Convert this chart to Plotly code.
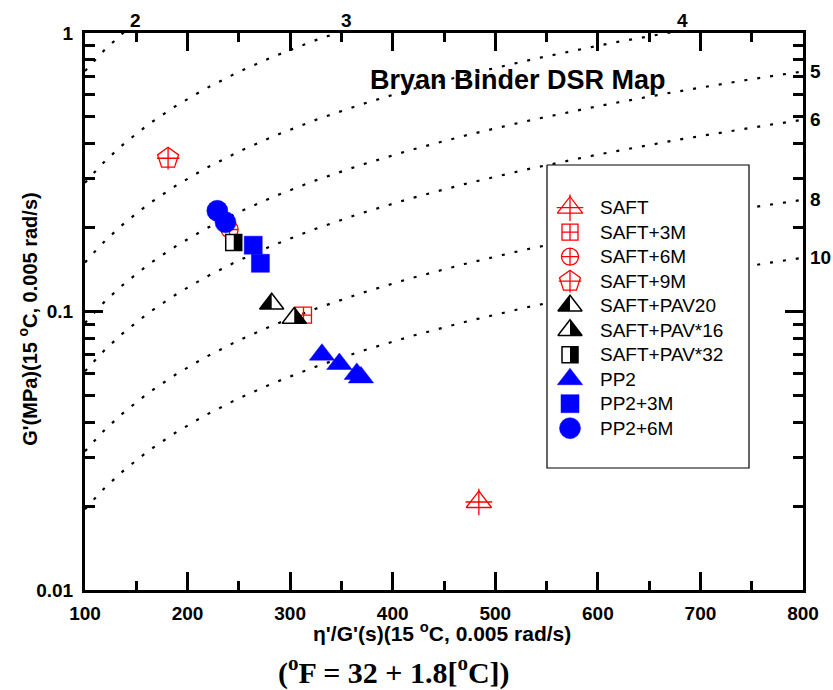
import numpy as np
import plotly.graph_objects as go

# ---------------- data ----------------
# reference curves: G' = k * (eta'/G') ; one curve per ductility level
ductility_labels = ["2", "3", "4", "5", "6", "8", "10"]
curve_slope = [7.3e-3, 2.9e-3, 1.5e-3, 9.1e-4, 6.1e-4, 3.15e-4, 1.95e-4]

top_label_text = ["2", "3", "4"]
top_label_x = [149, 355, 683]
right_label_text = ["5", "6", "8", "10"]
right_label_value = [0.728, 0.488, 0.252, 0.156]

x_ticks = [100, 200, 300, 400, 500, 600, 700, 800]
x_minor = [150, 250, 350, 450, 550, 650, 750]
y_ticks = [0.01, 0.1, 1]
y_tick_text = ["0.01", "0.1", "1"]
y_minor = [0.02, 0.03, 0.04, 0.05, 0.06, 0.07, 0.08, 0.09,
           0.2, 0.3, 0.4, 0.5, 0.6, 0.7, 0.8, 0.9]

saft_x = [484]
saft_y = [0.0207]
saft3m_x = [313]
saft3m_y = [0.097]
saft6m_x = [241]
saft6m_y = [0.197]
saft9m_x = [181]
saft9m_y = [0.355]
pav20_x = [282]
pav20_y = [0.1066]
pav16_x = [304]
pav16_y = [0.0948]
pav32_x = [245]
pav32_y = [0.177]
pp2_x = [331, 348, 365, 369]
pp2_y = [0.0700, 0.0648, 0.0597, 0.0580]
pp23m_x = [264, 271]
pp23m_y = [0.173, 0.149]
pp26m_x = [229, 237]
pp26m_y = [0.230, 0.209]

legend_names = ["SAFT", "SAFT+3M", "SAFT+6M", "SAFT+9M", "SAFT+PAV20",
                "SAFT+PAV*16", "SAFT+PAV*32", "PP2", "PP2+3M", "PP2+6M"]

# ---------------- styles ----------------
RED = "#ff0000"
BLUE = "#0000ff"
SANS = "Liberation Sans, Arial, sans-serif"
SERIF = "Liberation Serif, Times New Roman, serif"

# each series: marker layers (symbol, size, fill, line color, line width) + optional black half
series = {
    "SAFT": dict(x=saft_x, y=saft_y, layers=[("triangle-up-open", 22, RED, RED, 1.3),
                                             ("cross-thin-open", 19, RED, RED, 1.3)], half=None),
    "SAFT+3M": dict(x=saft3m_x, y=saft3m_y, layers=[("square-cross-open", 16, RED, RED, 1.3)], half=None),
    "SAFT+6M": dict(x=saft6m_x, y=saft6m_y, layers=[("circle-cross-open", 17, RED, RED, 1.3)], half=None),
    "SAFT+9M": dict(x=saft9m_x, y=saft9m_y, layers=[("pentagon-open", 22, RED, RED, 1.3),
                                                   ("cross-thin-open", 16, RED, RED, 1.3)], half=None),
    "SAFT+PAV20": dict(x=pav20_x, y=pav20_y, layers=[("triangle-up", 21, "white", "black", 1.5)],
                       half=("tri", "left", 21)),
    "SAFT+PAV*16": dict(x=pav16_x, y=pav16_y, layers=[("triangle-up", 21, "white", "black", 1.5)],
                        half=("tri", "right", 21)),
    "SAFT+PAV*32": dict(x=pav32_x, y=pav32_y, layers=[("square", 16, "white", "black", 1.5)],
                        half=("sq", "right", 16)),
    "PP2": dict(x=pp2_x, y=pp2_y, layers=[("triangle-up", 22, BLUE, BLUE, 0.5)], half=None),
    "PP2+3M": dict(x=pp23m_x, y=pp23m_y, layers=[("square", 18, BLUE, BLUE, 0.5)], half=None),
    "PP2+6M": dict(x=pp26m_x, y=pp26m_y, layers=[("circle", 21, BLUE, BLUE, 0.5)], half=None),
}


def half_path(kind, side, size):
    """pixel path (y up) of the black half of a marker, matching plotly symbol geometry"""
    r = size / 2.0
    if kind == "tri":
        rt = r * 2 / np.sqrt(3)
        sx = -rt if side == "left" else rt
        return f"M0,{r:.2f} L{sx:.2f},{-r/2:.2f} L0,{-r/2:.2f} Z"
    sx = -r if side == "left" else r
    return f"M0,{r:.2f} L{sx:.2f},{r:.2f} L{sx:.2f},{-r:.2f} L0,{-r:.2f} Z"


fig = go.Figure()
shapes = []
annotations = []

# dotted ductility curves
xc = np.linspace(100, 800, 141)
for lab, k in zip(ductility_labels, curve_slope):
    fig.add_trace(go.Scatter(x=xc, y=k * xc, mode="lines", hoverinfo="skip",
                             line=dict(color="black", width=2.2, dash="3px,10px"),
                             showlegend=False))

# data markers
for name in legend_names:
    s = series[name]
    for sym, size, fill, lc, lw in s["layers"]:
        fig.add_trace(go.Scatter(x=s["x"], y=s["y"], mode="markers", name=name, showlegend=False,
                                 marker=dict(symbol=sym, size=size, color=fill,
                                             line=dict(color=lc, width=lw))))
    if s["half"]:
        kind, side, size = s["half"]
        for xv, yv in zip(s["x"], s["y"]):
            shapes.append(dict(type="path", xref="x", yref="y", xsizemode="pixel", ysizemode="pixel",
                               xanchor=xv, yanchor=yv, path=half_path(kind, side, size),
                               fillcolor="black", line=dict(width=0), layer="above"))

# ---------------- legend (drawn on a helper pixel axis) ----------------
PW, PH = 718, 557
box_l, box_r, box_t, box_b = 462, 664, 132, 435
row0, row_dy = 174.7, 24.5
glyph_x, text_x = 485, 513
fig.add_trace(go.Scatter(x=[box_l, box_r, box_r, box_l, box_l], y=[box_t, box_t, box_b, box_b, box_t],
                         xaxis="x2", yaxis="y2", mode="lines", fill="toself", fillcolor="white",
                         line=dict(color="black", width=1.2), hoverinfo="skip", showlegend=False))
for i, name in enumerate(legend_names):
    s = series[name]
    ry = row0 + i * row_dy
    for sym, size, fill, lc, lw in s["layers"]:
        fig.add_trace(go.Scatter(x=[glyph_x], y=[ry], xaxis="x2", yaxis="y2", mode="markers",
                                 hoverinfo="skip", showlegend=False,
                                 marker=dict(symbol=sym, size=size, color=fill,
                                             line=dict(color=lc, width=lw))))
    if s["half"]:
        kind, side, size = s["half"]
        shapes.append(dict(type="path", xref="x2", yref="y2", xsizemode="pixel", ysizemode="pixel",
                           xanchor=glyph_x, yanchor=ry, path=half_path(kind, side, size),
                           fillcolor="black", line=dict(width=0), layer="above"))
    annotations.append(dict(x=text_x, y=ry, xref="x2", yref="y2", text=name, showarrow=False,
                            xanchor="left", yanchor="middle",
                            font=dict(family=SANS, size=19, color="black")))

# ---------------- labels ----------------
for t, xv in zip(top_label_text, top_label_x):
    annotations.append(dict(x=xv, y=1.0233, xref="x", yref="paper", text=t, showarrow=False,
                            xanchor="center", yanchor="middle",
                            font=dict(family=SANS, size=19, color="black", weight="bold")))
for t, yv in zip(right_label_text, right_label_value):
    annotations.append(dict(x=1.0075, y=float(np.log10(yv)), xref="paper", yref="y", text=t,
                            showarrow=False, xanchor="left", yanchor="middle",
                            font=dict(family=SANS, size=19, color="black", weight="bold")))

annotations.append(dict(x=0.603, y=0.9156, xref="paper", yref="paper", text="Bryan Binder DSR Map",
                        showarrow=False, xanchor="center", yanchor="middle",
                        font=dict(family=SANS, size=27, color="black", weight="bold")))
annotations.append(dict(x=0.497, y=-0.0749, xref="paper", yref="paper",
                        text="η'/G'(s)(15 <sup>o</sup>C, 0.005 rad/s)",
                        showarrow=False, xanchor="center", yanchor="middle",
                        font=dict(family=SANS, size=21, color="black", weight="bold")))
annotations.append(dict(x=-0.0794, y=0.487, xref="paper", yref="paper",
                        text="G'(MPa)(15 <sup>o</sup>C, 0.005 rad/s)", textangle=-90,
                        showarrow=False, xanchor="center", yanchor="middle",
                        font=dict(family=SANS, size=20, color="black", weight="bold")))
annotations.append(dict(x=0.431, y=-0.145, xref="paper", yref="paper",
                        text="(<sup>o</sup>F = 32 + 1.8[<sup>o</sup>C])",
                        showarrow=False, xanchor="center", yanchor="middle",
                        font=dict(family=SERIF, size=30, color="black", weight="bold")))

tickfont = dict(family=SANS, size=19, color="black", weight="bold")
fig.update_layout(
    width=833, height=690,
    margin=dict(l=85, r=30, t=33, b=100, pad=0),
    paper_bgcolor="white", plot_bgcolor="white",
    showlegend=False,
    xaxis=dict(range=[100, 800], tickmode="array", tickvals=x_ticks, ticks="inside", ticklen=18,
               tickwidth=3, tickcolor="black", showline=True, linewidth=3, linecolor="black",
               mirror="ticks", showgrid=False, zeroline=False, tickfont=tickfont,
               ticklabelstandoff=4,
               minor=dict(tickmode="array", tickvals=x_minor, ticks="inside", ticklen=9,
                          tickwidth=2.5, tickcolor="black", showgrid=False)),
    yaxis=dict(type="log", range=[-2, 0], tickmode="array", tickvals=y_ticks, ticktext=y_tick_text,
               ticks="inside", ticklen=18, tickwidth=3, tickcolor="black", showline=True,
               linewidth=3, linecolor="black", mirror="ticks", showgrid=False, zeroline=False,
               tickfont=tickfont, ticklabelstandoff=5,
               minor=dict(tickmode="array", tickvals=y_minor, ticks="inside", ticklen=10,
                          tickwidth=2.5, tickcolor="black", showgrid=False)),
    xaxis2=dict(overlaying="x", anchor="y2", range=[0, PW], visible=False, fixedrange=True),
    yaxis2=dict(overlaying="y", anchor="x2", range=[PH, 0], visible=False, fixedrange=True),
    shapes=shapes,
    annotations=annotations,
)

fig.write_html("out.html")
